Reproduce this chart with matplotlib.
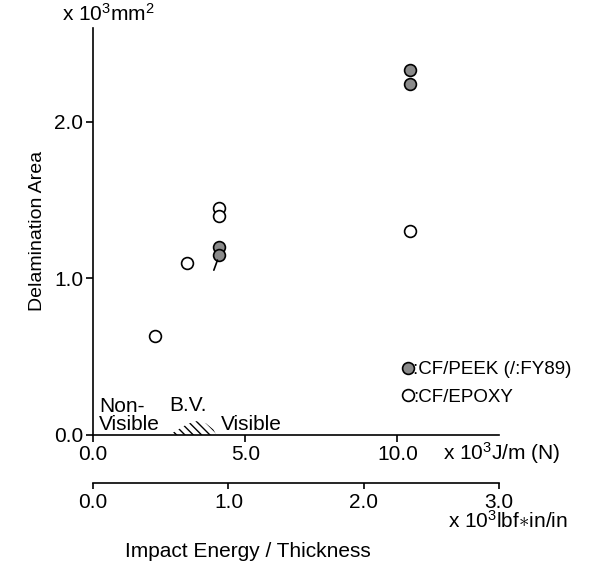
import numpy as np
import matplotlib
matplotlib.use("Agg")
import matplotlib.pyplot as plt
from matplotlib.lines import Line2D

plt.rcParams['font.family'] = ['Liberation Sans', 'DejaVu Sans']
plt.rcParams['font.size'] = 15
plt.rcParams['mathtext.fontset'] = 'custom'
plt.rcParams['mathtext.rm'] = 'Liberation Sans'
plt.rcParams['mathtext.it'] = 'Liberation Sans'
plt.rcParams['hatch.linewidth'] = 1.0

# impact energy / thickness (x10^3 J/m) and delamination area (x10^3 mm^2)
peek_x = [4.15, 4.15, 10.4, 10.4]
peek_y = [1.20, 1.15, 2.33, 2.24]
epoxy_x = [2.05, 3.1, 4.15, 4.15, 10.4]
epoxy_y = [0.63, 1.10, 1.45, 1.40, 1.30]
fy89_x = [4.15]
fy89_y = [1.15]

# barely visible zone outline
bv_x = [2.5, 2.8, 3.1, 3.4, 3.7, 3.95, 4.05]
bv_y = [0.0, 0.035, 0.07, 0.088, 0.075, 0.035, 0.0]

LBF = 4.448  # J/m per lbf*in/in
xmax = 3.0 * LBF

fig = plt.figure(figsize=(5.97, 5.70), dpi=100)
ax = fig.add_axes([0.156, 0.237, 0.68, 0.714])
ax.set_xlim(0, xmax)
ax.set_ylim(0, 2.6)

for s in ['top', 'right']:
    ax.spines[s].set_visible(False)
ax.spines['left'].set_linewidth(1.2)
ax.spines['bottom'].set_linewidth(1.2)

ax.set_xticks([0, 5, 10])
ax.set_xticklabels(['0.0', '5.0', '10.0'])
ax.set_yticks([0, 1, 2])
ax.set_yticklabels(['0.0', '1.0', '2.0'])
ax.tick_params(direction='out', length=5, width=1.2, pad=2)

ax.plot(epoxy_x, epoxy_y, 'o', ms=8.5, mfc='white', mec='black', mew=1.2, clip_on=False)
ax.plot(peek_x, peek_y, 'o', ms=8.5, mfc='#8a8a8a', mec='black', mew=1.2, clip_on=False)
for x, y in zip(fy89_x, fy89_y):
    ax.annotate('', xy=(x, y), xytext=(-4, -11), textcoords='offset points',
                arrowprops=dict(arrowstyle='-', lw=1.2, color='black',
                                shrinkA=0, shrinkB=4))

ax.fill(bv_x, bv_y, facecolor='none', edgecolor='black', linewidth=0,
        hatch='\\\\\\\\')

ax.text(0.2, 0.005, 'Non-\nVisible', ha='left', va='bottom', linespacing=0.95)
ax.text(2.5, 0.125, 'B.V.', ha='left', va='bottom')
ax.text(4.2, 0.005, 'Visible', ha='left', va='bottom')

handles = [
    Line2D([], [], marker='o', ls='none', ms=8.5, mfc='#8a8a8a', mec='black', mew=1.2),
    Line2D([], [], marker='o', ls='none', ms=8.5, mfc='white', mec='black', mew=1.2),
]
ax.legend(handles, [':CF/PEEK (/:FY89)', ':CF/EPOXY'], loc='upper left',
          bbox_to_anchor=(0.745, 0.2), frameon=False, handlelength=0.5,
          handletextpad=0.05, labelspacing=0.55, borderaxespad=0,
          fontsize=13.5)

ax.set_ylabel('Delamination Area', labelpad=6, fontsize=14)
fig.text(0.104, 0.975, 'x 10$^3$mm$^2$', ha='left', va='center')
fig.text(0.742, 0.205, 'x 10$^3$J/m (N)', ha='left', va='center')

sec = ax.secondary_xaxis(-0.118, functions=(lambda v: v / LBF, lambda v: v * LBF))
sec.set_xticks([0, 1, 2, 3])
sec.set_xticklabels(['0.0', '1.0', '2.0', '3.0'])
sec.spines['bottom'].set_linewidth(1.2)
sec.tick_params(direction='out', length=4, width=1.2, pad=3)
fig.text(0.952, 0.086, 'x 10$^3$lbf$\\ast$in/in', ha='right', va='center')
fig.text(0.415, 0.033, 'Impact Energy / Thickness', ha='center', va='center')

fig.savefig('out.png', dpi=100)
